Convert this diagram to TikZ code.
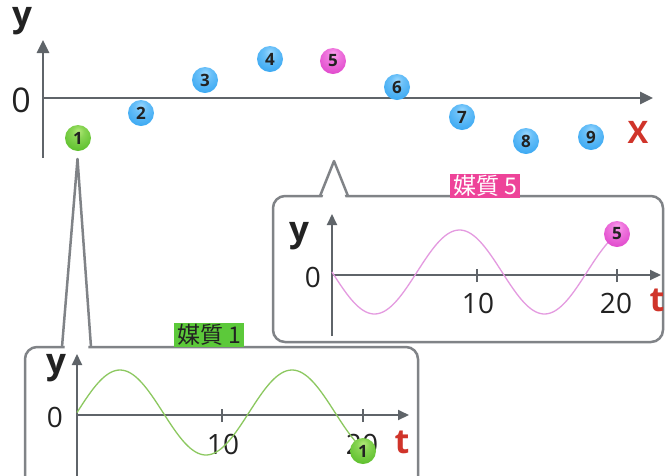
\documentclass[tikz,border=0pt]{standalone}
\usepackage{fontspec}
\setmainfont{Open Sans}
\newfontfamily\jp{Noto Sans CJK JP}
\usetikzlibrary{arrows.meta}
\definecolor{axisgray}{HTML}{5F6469}
\definecolor{boxgray}{HTML}{808387}
\definecolor{bluehi}{HTML}{9AD8FF}
\definecolor{bluemid}{HTML}{3AA8F2}
\definecolor{bluelo}{HTML}{1466C0}
\definecolor{greenhi}{HTML}{B4EA7A}
\definecolor{greenmid}{HTML}{5CBF2C}
\definecolor{greenlo}{HTML}{2A7A12}
\definecolor{pinkhi}{HTML}{FFA8F0}
\definecolor{pinkmid}{HTML}{E048CC}
\definecolor{pinklo}{HTML}{941888}
\definecolor{wavegreen}{HTML}{8CC860}
\definecolor{wavepink}{HTML}{E49AE0}
\definecolor{labpink}{HTML}{EE4399}
\definecolor{labgreen}{HTML}{5CC93A}
\definecolor{redlab}{HTML}{D0342A}
\definecolor{txt}{HTML}{222222}
\pgfdeclareradialshading{ballblueshade}{\pgfpoint{0bp}{14bp}}{color(0bp)=(bluehi); color(12bp)=(bluehi!50!bluemid); color(34bp)=(bluemid); color(58bp)=(bluelo); color(80bp)=(bluelo)}
\pgfdeclareradialshading{ballgreenshade}{\pgfpoint{0bp}{14bp}}{color(0bp)=(greenhi); color(12bp)=(greenhi!50!greenmid); color(34bp)=(greenmid); color(58bp)=(greenlo); color(80bp)=(greenlo)}
\pgfdeclareradialshading{ballpinkshade}{\pgfpoint{0bp}{14bp}}{color(0bp)=(pinkhi); color(12bp)=(pinkhi!50!pinkmid); color(34bp)=(pinkmid); color(58bp)=(pinklo); color(80bp)=(pinklo)}
\begin{document}
\begin{tikzpicture}[x=1pt,y=-1pt,
  ball/.style={circle,minimum size=26pt,inner sep=0pt,shading=#1,text=txt,font=\bfseries\fontsize{17}{17}\selectfont},
  mainaxis/.style={axisgray,line width=2.8pt,-{Triangle[length=13pt,width=12pt]}},
  subaxis/.style={axisgray,line width=2pt,-{Triangle[length=11pt,width=10pt]}},
  tick/.style={axisgray,line width=2pt},
  calloutbox/.style={boxgray,line width=2.5pt,rounded corners=12pt,fill=white},
  pointer/.style={boxgray,line width=2.5pt,line join=round},
  ylab/.style={text=txt,font=\bfseries\fontsize{35}{35}\selectfont,inner sep=0pt},
  numlab/.style={text=txt,font=\fontsize{28}{28}\selectfont,inner sep=0pt},
  redlab/.style={text=redlab,font=\bfseries\fontsize{34}{34}\selectfont,inner sep=0pt},
  medium/.style={font=\jp\fontsize{23}{23}\selectfont,inner xsep=3pt,inner ysep=1pt},
  wave/.style={line width=1.3pt}
]
\useasboundingbox (0,0) rectangle (665,475);

% ---------- main axes ----------
\coordinate (yb) at (43,158);
\coordinate (yt) at (43,40);
\coordinate (xl) at (42,98);
\coordinate (xr) at (653,98);
\draw[mainaxis] (yb) -- (yt);
\draw[mainaxis] (xl) -- (xr);
\node[ylab] (my) at (22,21) {y};
\node[numlab,font=\fontsize{34}{34}\selectfont] (m0) at (21,100) {0};
\node[redlab,font=\bfseries\fontsize{31}{31}\selectfont] (mx) at (638,132) {X};

% ---------- callout 5 ----------
\coordinate (c5a) at (273,196);
\coordinate (c5b) at (663,342);
\draw[calloutbox] (c5a) rectangle (c5b);
\coordinate (p5l) at (320,196);
\coordinate (p5t) at (334,161);
\coordinate (p5r) at (348,196);
\fill[white] (322,199) -- (334,164) -- (346,199) -- cycle;
\draw[pointer] (p5l) -- (p5t) -- (p5r);
\node[medium,fill=labpink,text=white] (lab5) at (485,186) {媒質 5};

\coordinate (s5b) at (332,336);
\coordinate (s5t) at (332,214);
\coordinate (s5l) at (331,275);
\coordinate (s5r) at (661,275);
\draw[subaxis] (s5b) -- (s5t);
\draw[subaxis] (s5l) -- (s5r);
\coordinate (t5a) at (477,275);
\coordinate (t5b) at (617,275);
\draw[tick] ([yshift=-7pt]t5a) -- ([yshift=6pt]t5a);
\draw[tick] ([yshift=-7pt]t5b) -- ([yshift=6pt]t5b);
\node[ylab] (y5) at (299,236) {y};
\node[numlab] (z5) at (313,277) {0};
\node[numlab] (ten5) at (478,303) {10};
\node[numlab] (tw5) at (616,303) {20};
\node[redlab] (tt5) at (657,300) {t};
\draw[wave,wavepink] plot[domain=0:285,samples=120] ({332+\x},{272+42*sin(\x/170*360)});
\node[ball=ballpinkshade] (w5) at (617,234) {5};

% ---------- callout 1 ----------
\coordinate (c1a) at (25,347);
\coordinate (c1b) at (418,500);
\draw[calloutbox] (c1a) rectangle (c1b);
\coordinate (p1l) at (62,347);
\coordinate (p1t) at (77.5,159);
\coordinate (p1r) at (91,347);
\fill[white] (64.5,350) -- (77.5,165) -- (88.5,350) -- cycle;
\draw[pointer] (p1l) -- (p1t) -- (p1r);
\node[medium,fill=labgreen,text=txt] (lab1) at (209,335) {媒質 1};

\coordinate (s1b) at (77,480);
\coordinate (s1t) at (77,354);
\coordinate (s1l) at (76,415);
\coordinate (s1r) at (409,415);
\draw[subaxis] (s1b) -- (s1t);
\draw[subaxis] (s1l) -- (s1r);
\coordinate (t1a) at (222,415);
\coordinate (t1b) at (363,415);
\draw[tick] ([yshift=-7pt]t1a) -- ([yshift=6pt]t1a);
\draw[tick] ([yshift=-7pt]t1b) -- ([yshift=6pt]t1b);
\node[ylab] (y1) at (56,368) {y};
\node[numlab] (z1) at (55,417) {0};
\node[numlab] (ten1) at (223,444) {10};
\node[numlab] (tw1) at (362,444) {20};
\node[redlab] (tt1) at (402,442) {t};
\draw[wave,wavegreen] plot[domain=0:286,samples=120] ({77+\x},{412.5-42.5*sin(\x/172*360)});
\node[ball=ballgreenshade] (w1) at (363,451) {1};

% ---------- medium particles ----------
\node[ball=ballgreenshade] (b1) at (78,138) {1};
\node[ball=ballblueshade] (b2) at (141,113) {2};
\node[ball=ballblueshade] (b3) at (205,80) {3};
\node[ball=ballblueshade] (b4) at (270,59) {4};
\node[ball=ballpinkshade] (b5) at (333,61) {5};
\node[ball=ballblueshade] (b6) at (397,87) {6};
\node[ball=ballblueshade] (b7) at (462,117) {7};
\node[ball=ballblueshade] (b8) at (526,141) {8};
\node[ball=ballblueshade] (b9) at (591,137) {9};
\end{tikzpicture}
\end{document}
